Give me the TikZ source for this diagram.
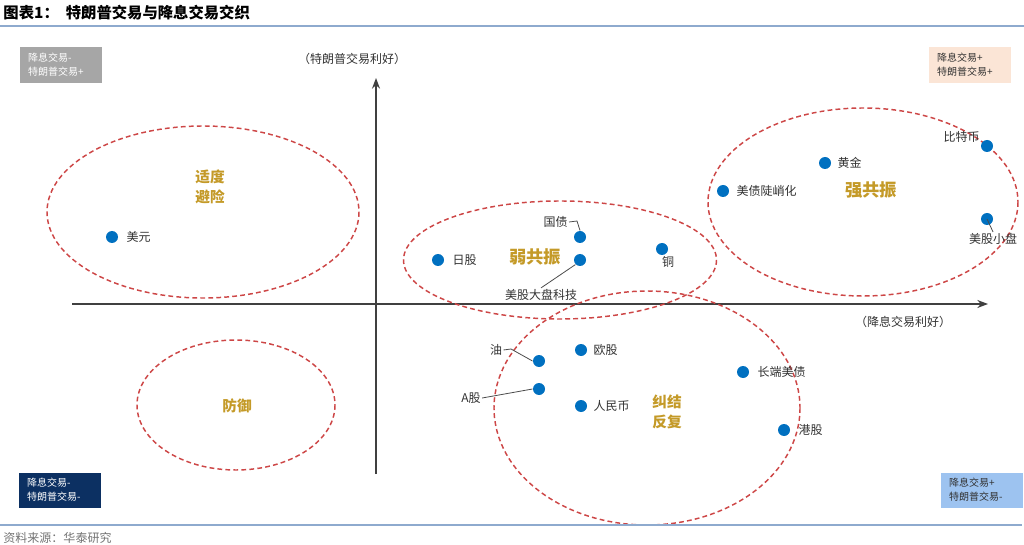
\documentclass[tikz,border=0pt]{standalone}
\usepackage{fontspec}
\setmainfont{Noto Sans CJK SC}
\usetikzlibrary{arrows.meta}

\definecolor{zonered}{RGB}{205,70,70}
\definecolor{dotblue}{RGB}{0,112,192}
\definecolor{zonegold}{RGB}{196,154,40}
\definecolor{labelgray}{RGB}{50,50,50}
\definecolor{rulegray}{RGB}{142,170,206}
\definecolor{quadgray}{RGB}{166,166,166}
\definecolor{quadpeach}{RGB}{251,229,214}
\definecolor{quadnavy}{RGB}{12,48,98}
\definecolor{quadblue}{RGB}{157,195,240}

\tikzset{every picture/.style={line width=0.75pt},
  zone/.style={draw=zonered, line width=1.1pt, dash pattern={on 3.6pt off 2.4pt}},
  dot/.style={circle, fill=dotblue, inner sep=0pt, minimum size=9pt},
  lbl/.style={inner sep=0.75pt, text=labelgray, font=\fontsize{9}{11}\selectfont},
  zonelbl/.style={inner sep=0.75pt, text=zonegold, align=center, font=\fontsize{11}{14.5}\selectfont\bfseries},
  biglbl/.style={zonelbl, font=\fontsize{13}{15}\selectfont\bfseries},
  quad/.style={anchor=north west, inner xsep=6.5pt, inner ysep=0pt, text width=49pt, minimum height=26.5pt, align=left, font=\fontsize{7.5}{10.5}\selectfont},
  leader/.style={draw=black!70, line width=0.6pt},
  axis/.style={draw=black!75, line width=1.1pt, -{Stealth[length=8pt,width=6pt]}},
}

\begin{document}
\begin{tikzpicture}[x=0.75pt,y=0.75pt,yscale=-1,xscale=1]
    \useasboundingbox (0,0) rectangle (1024,545);

    % Title
    \node [anchor=west, inner sep=0.75pt, font=\fontsize{11.5}{13}\selectfont\bfseries] (title) at (2,13) {图表1：\ \ 特朗普交易与降息交易交织};
    \draw [rulegray, line width=1.5pt] (0,26) -- (1024,26);

    % Quadrant boxes
    \node [quad, fill=quadgray, text=white] (q-tl) at (19,47) {降息交易-\\特朗普交易+};
    \node [quad, fill=quadpeach, text=labelgray] (q-tr) at (928,47) {降息交易+\\特朗普交易+};
    \node [quad, fill=quadnavy, text=white] (q-bl) at (18,472) {降息交易-\\特朗普交易-};
    \node [quad, fill=quadblue, text=labelgray, text width=48.5pt] (q-br) at (940,472) {降息交易+\\特朗普交易-};

    % Axes
    \coordinate (x-start) at (72,304);
    \coordinate (x-end) at (988,304);
    \coordinate (y-start) at (376,474);
    \coordinate (y-end) at (376,78);
    \draw [axis] (x-start) -- (x-end);
    \draw [axis] (y-start) -- (y-end);
    \node [lbl] (y-title) at (352,59) {（特朗普交易利好）};
    \node [lbl] (x-title) at (903,322) {（降息交易利好）};

    % Zones
    \draw [zone] (203,212) ellipse (156 and 86);
    \draw [zone] (560,260) ellipse (156.5 and 59);
    \draw [zone] (863,202) ellipse (155 and 94);
    \draw [zone] (236,405) ellipse (99 and 65);
    \draw [zone] (647,408) ellipse (153 and 117);

    % Zone names
    \node [zonelbl] (z-hedge) at (210,187) {适度\\避险};
    \node [biglbl] (z-weak) at (535,257) {弱共振};
    \node [biglbl] (z-strong) at (871,190) {强共振};
    \node [zonelbl] (z-defend) at (237,406) {防御};
    \node [zonelbl] (z-mixed) at (667,412) {纠结\\反复};

    % Assets
    \node [dot] (usd) at (112,237) {};
    \node [lbl, anchor=west] (usd-l) at (125,237) {美元};
    \node [dot] (jpeq) at (438,260) {};
    \node [lbl, anchor=west] (jpeq-l) at (451,260) {日股};
    \node [dot] (bond) at (580,237) {};
    \node [lbl, anchor=west] (bond-l) at (542,222) {国债};
    \node [dot] (tech) at (580,260) {};
    \node [lbl] (tech-l) at (541,295) {美股大盘科技};
    \node [dot] (copper) at (662,249) {};
    \node [lbl] (copper-l) at (668,262) {铜};
    \node [dot] (steep) at (723,191) {};
    \node [lbl, anchor=west] (steep-l) at (735,191) {美债陡峭化};
    \node [dot] (gold) at (825,163) {};
    \node [lbl, anchor=west] (gold-l) at (836,163) {黄金};
    \node [dot] (btc) at (987,146) {};
    \node [lbl, anchor=east] (btc-l) at (981,137) {比特币};
    \node [dot] (small) at (987,219) {};
    \node [lbl] (small-l) at (993,239) {美股小盘};
    \node [dot] (eueq) at (581,350) {};
    \node [lbl, anchor=west] (eueq-l) at (592,350) {欧股};
    \node [dot] (oil) at (539,361) {};
    \node [lbl] (oil-l) at (496,350) {油};
    \node [dot] (ashare) at (539,389) {};
    \node [lbl] (ashare-l) at (471,398) {A股};
    \node [dot] (cny) at (581,406) {};
    \node [lbl, anchor=west] (cny-l) at (592,406) {人民币};
    \node [dot] (longust) at (743,372) {};
    \node [lbl, anchor=west] (longust-l) at (756,372) {长端美债};
    \node [dot] (hkeq) at (784,430) {};
    \node [lbl, anchor=west] (hkeq-l) at (797,430) {港股};

    % Leaders
    \draw [leader] (bond-l.east) -- (577,221) -- (bond.north);
    \draw [leader] (tech-l.north) -- (tech.south west);
    \draw [leader] (small.center) -- (small-l.north);
    \draw [leader] (oil-l.east) -- (511,349) -- (oil.west);
    \draw [leader] (ashare-l.east) -- (ashare.west);

    % Source
    \draw [rulegray, line width=0.8pt] (0,525) -- (1022,525);
    \node [lbl, anchor=west, text=black!55] (source) at (2,538) {资料来源：华泰研究};

\end{tikzpicture}
\end{document}
